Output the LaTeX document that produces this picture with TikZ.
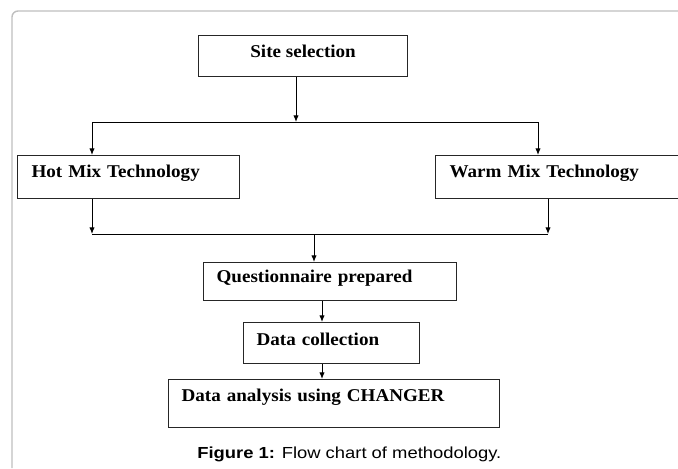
\documentclass[tikz,border=0pt]{standalone}
\usepackage{fontspec}
\setmainfont{Liberation Serif}[FakeStretch=1.06]
\newfontfamily\capfont{Liberation Sans}[FakeStretch=1.15]
\usetikzlibrary{arrows.meta}

\newlength\px
\setlength\px{0.75pt}

\tikzset{
  stage/.style={draw=black!85,line width=1.2\px,inner sep=0pt,anchor=north west,
    font=\fontsize{13.5}{16}\selectfont\bfseries},
  padded/.style={inner xsep=13\px,align=left},
  link/.style={line width=0.9\px,-{Latex[length=5pt,width=4pt]}},
  joint/.style={line width=0.9\px},
  frame/.style={draw=black!25,line width=1.4\px,rounded corners=6\px}
}

\begin{document}
\begin{tikzpicture}[x=1\px,y=-1\px]
  \useasboundingbox (0,0) rectangle (678,468);
  % Outer frame (only top and left visible)
  \draw[frame] (12,468) |- (678,11);
  % Boxes
  \node[stage,minimum width=209\px,text height=22\px,text depth=19\px]
    (site) at (198,35) {Site selection};
  \node[stage,padded,inner xsep=14\px,text width=194\px,text height=22\px,text depth=21\px]
    (hot) at (17,155) {Hot Mix Technology};
  \node[stage,padded,inner xsep=14\px,text width=216\px,text height=22\px,text depth=21\px]
    (warm) at (435,155) {Warm Mix Technology};
  \node[stage,padded,text width=227\px,text height=20\px,text depth=18\px]
    (quest) at (203,262) {Questionnaire prepared};
  \node[stage,padded,text width=150\px,text height=23\px,text depth=18\px]
    (coll) at (243,322) {Data collection};
  \node[stage,padded,text width=305\px,text height=22\px,text depth=26\px]
    (anal) at (168,379) {Data analysis using CHANGER};
  % Junctions
  \coordinate (split) at (296,122);
  \coordinate (fanL) at (92,122);
  \coordinate (fanR) at (538,122);
  \coordinate (joinL) at (92,234);
  \coordinate (joinR) at (548,234);
  \coordinate (merge) at (314,234);
  \coordinate (spine) at (322,300);
  % Connectors
  \draw[link] (site.south -| split) -- (split);
  \draw[joint] (fanL) -- (fanR);
  \draw[link] (fanL) -- (fanL |- hot.north);
  \draw[link] (fanR) -- (fanR |- warm.north);
  \draw[link] (hot.south -| joinL) -- (joinL);
  \draw[link] (warm.south -| joinR) -- (joinR);
  \draw[joint] (joinL) -- (joinR);
  \draw[link] (merge) -- (merge |- quest.north);
  \draw[link] (quest.south -| spine) -- (coll.north -| spine);
  \draw[link] (coll.south -| spine) -- (anal.north -| spine);
  % Caption
  \node[anchor=base west,inner sep=0pt,font=\capfont\fontsize{12}{14}\selectfont]
    (caption) at (197,458) {\textbf{Figure 1:} Flow chart of methodology.};
\end{tikzpicture}
\end{document}
